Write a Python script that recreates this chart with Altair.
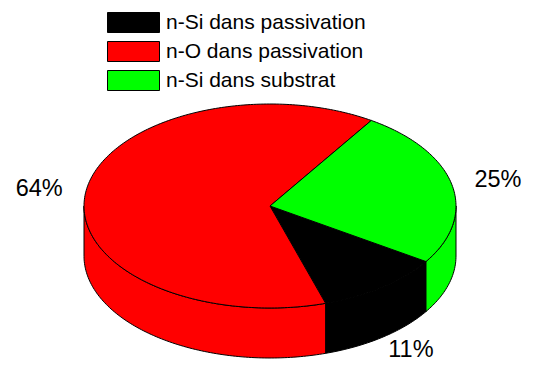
import math
import altair as alt
import pandas as pd

labels = ["n-Si dans passivation", "n-O dans passivation", "n-Si dans substrat"]
shares = [11, 64, 25]
colors = ["#000000", "#ff0000", "#00ff00"]
pct_labels = ["11%", "64%", "25%"]

MARGIN = 8
W, H = 534 - 2 * MARGIN, 369 - 2 * MARGIN
CX, CY, RX, RY, DEPTH = 270, 206, 186, 102, 50
START = -72.6   # boundary between the black and red slices, degrees
LRX, LRY = 233, 125
LABEL_DROP = 44  # front labels sit below the wall, kept inside the drawing area


def ex(t):
    return CX + RX * math.cos(math.radians(t))


def ey(t):
    return CY - RY * math.sin(math.radians(t))


# clockwise order in the picture: green -> black -> red
black_top = START + shares[0] * 3.6
bounds = {
    labels[0]: (black_top, START),
    labels[1]: (START, START - shares[1] * 3.6),
    labels[2]: (black_top + shares[2] * 3.6, black_top),
}

top, side, text = [], [], []
for name, pct in zip(labels, pct_labels):
    a0, a1 = bounds[name]
    n = max(2, int(abs(a0 - a1)))
    pts = [a0 + (a1 - a0) * i / n for i in range(n + 1)]
    outline = [(CX, CY)] + [(ex(t), ey(t)) for t in pts] + [(CX, CY)]
    for k, (x, y) in enumerate(outline):
        top.append(dict(name=name, x=x, y=y, k=k))
    # front wall: the slice's rim on the lower half, including the exact extremes
    front = sorted(
        {t for t in pts if math.sin(math.radians(t)) <= 0}
        | {t for t in (0, -180) if min(a0, a1) <= t <= max(a0, a1)},
        reverse=True,
    )
    if front:
        wall = [(ex(t), ey(t)) for t in front] + [(ex(t), ey(t) + DEPTH) for t in reversed(front)]
        wall.append(wall[0])
        for j, (x, y) in enumerate(wall):
            side.append(dict(name=name, x=x, y=y, k=j))
    mid = (a0 + a1) / 2
    lx = CX + LRX * math.cos(math.radians(mid))
    ly = CY - LRY * math.sin(math.radians(mid))
    if math.sin(math.radians(mid)) < -0.5:
        ly += LABEL_DROP
    text.append(dict(pct=pct, x=lx, y=ly))

xs = alt.Scale(domain=[MARGIN, MARGIN + W], range=[0, W], nice=False, zero=False)
ys = alt.Scale(domain=[MARGIN, MARGIN + H], range=[0, H], nice=False, zero=False)
col = alt.Color(
    "name:N",
    scale=alt.Scale(domain=labels, range=colors),
    legend=alt.Legend(
        title=None,
        orient="none",
        legendX=115,
        legendY=4,
        symbolType="M-2.6,-1H2.6V1H-2.6Z",
        symbolSize=400,
        symbolStrokeColor="black",
        symbolStrokeWidth=1,
        symbolOpacity=1,
        labelFont="Liberation Sans",
        labelFontSize=21,
        labelColor="black",
        labelOffset=22,
        rowPadding=4,
        labelLimit=300,
    ),
    sort=labels,
)


def shape(rows):
    return (
        alt.Chart(pd.DataFrame(rows))
        .mark_line(filled=True, stroke="black", strokeWidth=1, interpolate="linear", opacity=1)
        .encode(
            x=alt.X("x:Q", scale=xs, axis=None),
            y=alt.Y("y:Q", scale=ys, axis=None),
            order="k:Q",
            color=col,
            detail="name:N",
        )
    )


pct_layer = (
    alt.Chart(pd.DataFrame(text))
    .mark_text(font="Liberation Sans", fontSize=23.5, color="black", align="center", baseline="middle")
    .encode(x=alt.X("x:Q", scale=xs, axis=None), y=alt.Y("y:Q", scale=ys, axis=None), text="pct:N")
)

chart = (
    alt.layer(shape(side), shape(top), pct_layer)
    .properties(width=W, height=H, padding=0, background="white",
                autosize=alt.AutoSizeParams(type="none"))
    .configure_view(stroke=None)
)
chart.save("out.html", embed_options={"renderer": "svg", "actions": False})
